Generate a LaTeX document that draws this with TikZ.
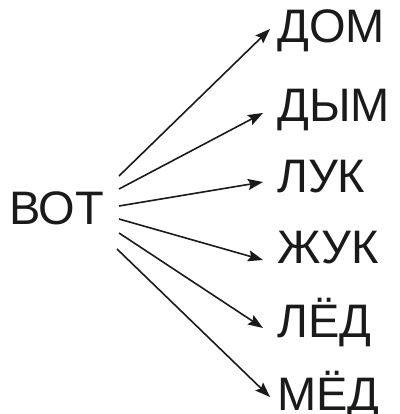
\documentclass[tikz,border=0pt]{standalone}
\usepackage{fontspec}
\setmainfont{Liberation Sans}
\usetikzlibrary{arrows.meta, calc}
\definecolor{ink}{HTML}{1A1A1A}

\begin{document}
\begin{tikzpicture}[x=1pt, y=-1pt,
    every node/.style={font=\fontsize{47}{50}\selectfont, text=ink, inner sep=0pt, anchor=base west},
    fan/.style={ink, line width=1.6pt, -{Stealth[length=15pt,width=11pt,inset=2.5pt]}}]
    \useasboundingbox (0,0) rectangle (399,414);
    \node (vot) at (9,224) {ВОТ};
    \node (dom) at (277,43) {ДОМ};
    \node (dym) at (277,122) {ДЫМ};
    \node (luk) at (277,192) {ЛУК};
    \node (zhuk) at (277,263) {ЖУК};
    \node (led) at (277,337) {ЛЁД};
    \node (med) at (277,410) {МЁД};
    % start points of the fan
    \coordinate (s1) at (119,176);
    \coordinate (s2) at (119,189);
    \coordinate (s3) at (119,206);
    \coordinate (s4) at (119,219);
    \coordinate (s5) at (119,233);
    \coordinate (s6) at (117,249);
    \draw[fan] (s1) -- ($(dom.base west)+(-7,-14)$);
    \draw[fan] (s2) -- ($(dym.base west)+(-14,-9)$);
    \draw[fan] (s3) -- ($(luk.base west)+(-14,-10)$);
    \draw[fan] (s4) -- ($(zhuk.base west)+(-14,-3)$);
    \draw[fan] (s5) -- ($(led.base west)+(-14,-9)$);
    \draw[fan] (s6) -- ($(med.base west)+(-7,-13)$);
\end{tikzpicture}
\end{document}
